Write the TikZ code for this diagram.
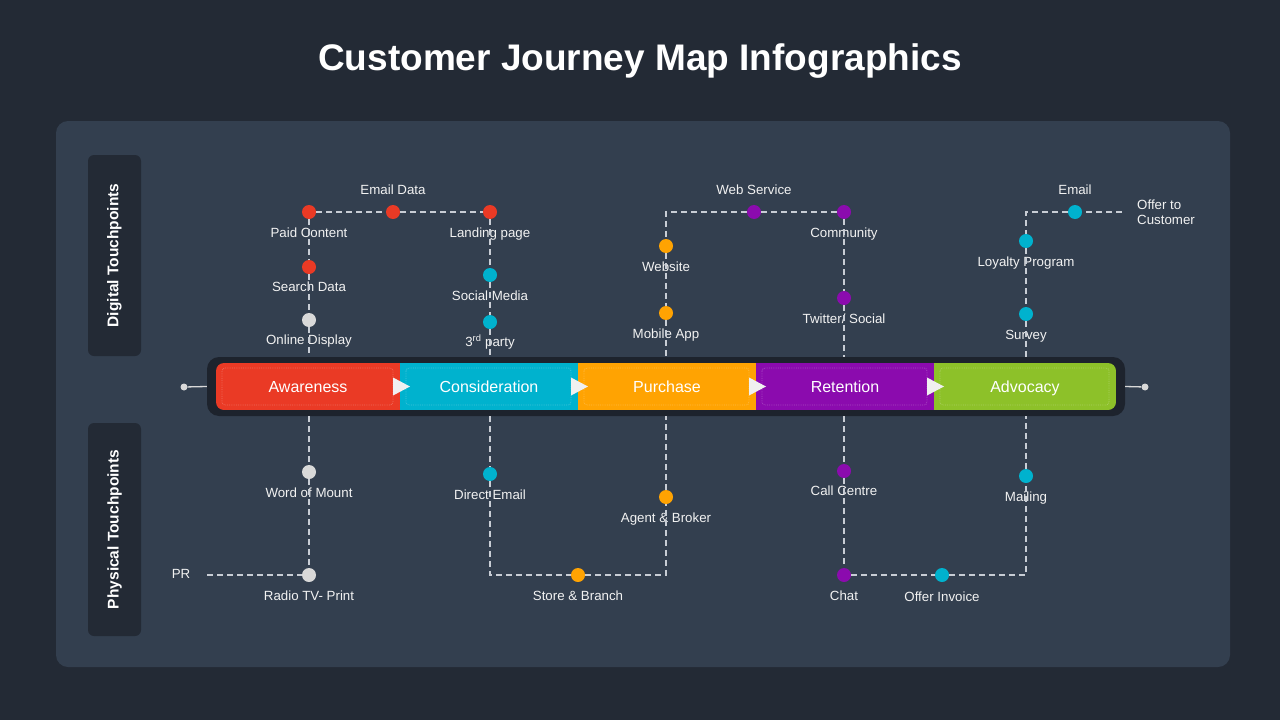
\documentclass[tikz,border=0pt]{standalone}
\usepackage{fontspec}
\setmainfont{Liberation Sans}
\usetikzlibrary{positioning, calc}
\definecolor{cjbg}{HTML}{232A35}
\definecolor{cjpanel}{HTML}{333F4F}
\definecolor{cjside}{HTML}{232A35}
\definecolor{cjbar}{HTML}{1D232D}
\definecolor{cjred}{HTML}{EA3A25}
\definecolor{cjteal}{HTML}{00B2CE}
\definecolor{cjorange}{HTML}{FFA302}
\definecolor{cjpurple}{HTML}{8B0BAE}
\definecolor{cjgreen}{HTML}{8DC129}
\definecolor{cjgray}{HTML}{D9D9D9}
\definecolor{cjline}{HTML}{C8CDD5}
\definecolor{cjtext}{HTML}{F2F2F2}

\begin{document}
\begin{tikzpicture}[x=1pt, y=-1pt,
  every node/.style={font=\fontsize{13.3}{15}\selectfont, text=cjtext},
  dot/.style={circle, minimum size=14pt, inner sep=0pt},
  lbl/.style={inner sep=1pt, text height=9.5pt, text depth=2.5pt},
  trail/.style={draw=cjline, line width=1.3pt, dash pattern=on 6pt off 4pt},
  stage/.style={rectangle, minimum height=47pt, inner sep=0pt, outer sep=0pt, anchor=west, text height=13pt, text depth=1pt, font=\fontsize{16}{19}\selectfont, text=white},
  inset/.style={draw=white, draw opacity=0.25, densely dotted, line width=0.8pt, rounded corners=3pt},
  side/.style={rectangle, fill=cjside, rounded corners=6pt, rotate=90, minimum height=53pt, font=\bfseries\fontsize{15.5}{18}\selectfont, text=white},
]
\useasboundingbox (0,0) rectangle (1280,720);
\fill[cjbg] (0,0) rectangle (1280,720);
\fill[cjpanel, rounded corners=12pt] (56,121) rectangle (1230,667);

\node[font=\bfseries\fontsize{37}{44}\selectfont, text=white] (title) at (640,61) {Customer Journey Map Infographics};

% Side labels
\node[side, minimum width=201pt] (dig) at (114.5,255.5) {Digital Touchpoints};
\node[side, minimum width=213pt] (phy) at (114.5,529.5) {Physical Touchpoints};

% Stage bar
\node[fill=cjbar, rounded corners=12pt, minimum width=918pt, minimum height=59pt, inner sep=0pt] (bar) at (666,386.5) {};
\begin{scope}
\clip[rounded corners=8pt] (216,363) rectangle (1116,410);
\node[stage, fill=cjred, minimum width=184pt] (aw) at (216,386.5) {Awareness};
\node[stage, fill=cjteal, minimum width=178pt] (co) at (aw.east) {Consideration};
\node[stage, fill=cjorange, minimum width=178pt] (pu) at (co.east) {Purchase};
\node[stage, fill=cjpurple, minimum width=178pt] (re) at (pu.east) {Retention};
\node[stage, fill=cjgreen, minimum width=182pt] (ad) at (re.east) {Advocacy};
\end{scope}
\foreach \s in {aw,co,pu,re,ad}
  \draw[inset] ([shift={(6,5)}]\s.north west) rectangle ([shift={(-7,-5)}]\s.south east);
\foreach \s in {aw,co,pu,re}
  \fill[cjgray!40!white] ([shift={(-7,-9)}]\s.east) -- ([shift={(10,0)}]\s.east) -- ([shift={(-7,9)}]\s.east) -- cycle;

% End caps
\node[dot, fill=cjgray, minimum size=7pt] (lcap) at (184,387) {};
\node[dot, fill=cjgray, minimum size=7pt] (rcap) at (1145,387) {};
\draw[cjgray, line width=1.3pt] (lcap) -- (bar.west);
\draw[cjgray, line width=1.3pt] (bar.east) -- (rcap);

% Digital touchpoints
\node[dot, fill=cjred] (pc) at (309,212) {};
\node[lbl, below=8pt of pc] (pcl) {Paid Content};
\node[dot, fill=cjred] (ed) at (393,212) {};
\node[lbl, above=7pt of ed] (edl) {Email Data};
\node[dot, fill=cjred] (lp) at (490,212) {};
\node[lbl, below=8pt of lp] (lpl) {Landing page};
\node[dot, fill=cjred] (sd) at (309,267) {};
\node[lbl, below=7pt of sd] (sdl) {Search Data};
\node[dot, fill=cjgray] (od) at (309,320) {};
\node[lbl, below=7pt of od] (odl) {Online Display};
\node[dot, fill=cjteal] (sm) at (490,275) {};
\node[lbl, below=8pt of sm] (sml) {Social Media};
\node[dot, fill=cjteal] (tp) at (490,322) {};
\node[lbl, below=7pt of tp] (tpl) {3\textsuperscript{rd} party};

\coordinate (c1) at (666,212);
\node[dot, fill=cjorange] (wb) at (666,246) {};
\node[lbl, below=8pt of wb] (wbl) {Website};
\node[dot, fill=cjorange] (ma) at (666,313) {};
\node[lbl, below=8pt of ma] (mal) {Mobile App};
\node[dot, fill=cjpurple] (wsv) at (754,212) {};
\node[lbl, above=7pt of wsv] (wsvl) {Web Service};
\node[dot, fill=cjpurple] (cm) at (844,212) {};
\node[lbl, below=8pt of cm] (cml) {Community};
\node[dot, fill=cjpurple] (tw) at (844,298) {};
\node[lbl, below=8pt of tw] (twl) {Twitter/ Social};

\coordinate (c2) at (1026,212);
\node[dot, fill=cjteal] (em) at (1075,212) {};
\node[lbl, above=7pt of em] (eml) {Email};
\node[lbl, anchor=west, align=left, inner xsep=0pt, text height=, text depth=] (otc) at (1137,212) {Offer to\\Customer};
\node[dot, fill=cjteal] (lo) at (1026,241) {};
\node[lbl, below=8pt of lo] (lol) {Loyalty Program};
\node[dot, fill=cjteal] (sv) at (1026,314) {};
\node[lbl, below=8pt of sv] (svl) {Survey};

\draw[trail] (pc) -- (ed) -- (lp);
\draw[trail] (pc) -- (sd) -- (od) -- (od |- bar.north);
\draw[trail] (lp) -- (sm) -- (tp) -- (tp |- bar.north);
\draw[trail] (cm) -- (wsv) -- (c1) -- (wb) -- (ma) -- (ma |- bar.north);
\draw[trail] (cm) -- (tw) -- (tw |- bar.north);
\draw[trail] ([xshift=-15pt]otc.west) -- (em) -- (c2) -- (lo) -- (sv) -- (sv |- bar.north);

% Physical touchpoints
\node[dot, fill=cjgray] (wom) at (309,472) {};
\node[lbl, below=8pt of wom] (woml) {Word of Mount};
\node[dot, fill=cjgray] (rtp) at (309,575) {};
\node[lbl, below=8pt of rtp] (rtpl) {Radio TV- Print};
\node[lbl] (pr) at (181,575) {PR};
\node[dot, fill=cjteal] (de) at (490,474) {};
\node[lbl, below=8pt of de] (del) {Direct Email};
\coordinate (c3) at (490,575);
\node[dot, fill=cjorange] (sb) at (578,575) {};
\node[lbl, below=8pt of sb] (sbl) {Store \& Branch};
\coordinate (c4) at (666,575);
\node[dot, fill=cjorange] (ab) at (666,497) {};
\node[lbl, below=8pt of ab] (abl) {Agent \& Broker};
\node[dot, fill=cjpurple] (cc) at (844,471) {};
\node[lbl, below=7pt of cc] (ccl) {Call Centre};
\node[dot, fill=cjpurple] (ch) at (844,575) {};
\node[lbl, below=8pt of ch] (chl) {Chat};
\node[dot, fill=cjteal] (oi) at (942,575) {};
\node[lbl, below=9pt of oi] (oil) {Offer Invoice};
\coordinate (c5) at (1026,575);
\node[dot, fill=cjteal] (ml) at (1026,476) {};
\node[lbl, below=8pt of ml] (mll) {Mailing};

\draw[trail] (wom |- bar.south) -- (wom) -- (rtp);
\draw[trail] ([xshift=16pt]pr.east) -- (rtp);
\draw[trail] (de |- bar.south) -- (de) -- (c3) -- (sb) -- (c4) -- (ab) -- (ab |- bar.south);
\draw[trail] (cc |- bar.south) -- (cc) -- (ch) -- (oi) -- (c5) -- (ml) -- (ml |- bar.south);
\end{tikzpicture}
\end{document}
